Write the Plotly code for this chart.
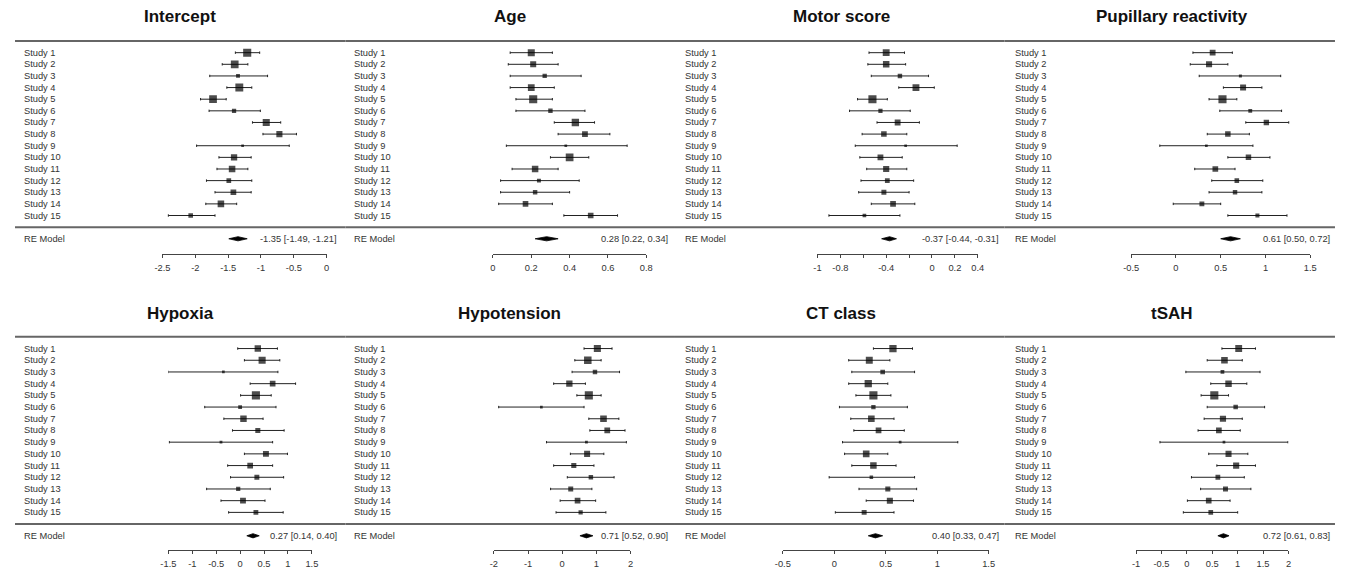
import plotly.graph_objects as go

W, H = 1347, 577          # target window
OFF = 8                   # default body margin of the html page
FW, FH = W - 2 * OFF, H - 2 * OFF   # figure size so the page fits exactly

# ---------------- data ----------------
studies = [f"Study {i}" for i in range(1, 16)]
panel_titles = ["Intercept", "Age", "Motor score", "Pupillary reactivity",
                "Hypoxia", "Hypotension", "CT class", "tSAH"]

intercept_est = [-1.21, -1.40, -1.35, -1.33, -1.73, -1.41, -0.92, -0.72, -1.28, -1.41, -1.44, -1.49, -1.42, -1.61, -2.07]
intercept_lo = [-1.39, -1.59, -1.78, -1.52, -1.92, -1.79, -1.13, -0.97, -1.98, -1.64, -1.67, -1.83, -1.70, -1.84, -2.41]
intercept_hi = [-1.02, -1.20, -0.90, -1.14, -1.53, -1.01, -0.70, -0.46, -0.57, -1.15, -1.20, -1.14, -1.15, -1.37, -1.70]

age_est = [0.20, 0.21, 0.27, 0.20, 0.21, 0.30, 0.43, 0.48, 0.38, 0.40, 0.22, 0.24, 0.22, 0.17, 0.51]
age_lo = [0.09, 0.08, 0.09, 0.09, 0.12, 0.12, 0.32, 0.34, 0.07, 0.30, 0.10, 0.04, 0.04, 0.03, 0.37]
age_hi = [0.31, 0.34, 0.46, 0.32, 0.31, 0.48, 0.53, 0.61, 0.70, 0.50, 0.34, 0.45, 0.40, 0.31, 0.65]

motor_est = [-0.40, -0.40, -0.28, -0.14, -0.52, -0.45, -0.30, -0.42, -0.23, -0.45, -0.40, -0.39, -0.42, -0.34, -0.59]
motor_lo = [-0.55, -0.56, -0.53, -0.29, -0.65, -0.72, -0.48, -0.61, -0.67, -0.63, -0.57, -0.62, -0.64, -0.53, -0.90]
motor_hi = [-0.24, -0.23, -0.03, 0.02, -0.39, -0.19, -0.11, -0.22, 0.22, -0.26, -0.22, -0.16, -0.20, -0.15, -0.28]

pupil_est = [0.41, 0.37, 0.72, 0.75, 0.52, 0.83, 1.01, 0.58, 0.34, 0.81, 0.44, 0.68, 0.66, 0.29, 0.91]
pupil_lo = [0.19, 0.16, 0.26, 0.53, 0.37, 0.49, 0.78, 0.35, -0.18, 0.58, 0.21, 0.40, 0.37, -0.03, 0.58]
pupil_hi = [0.63, 0.58, 1.17, 0.96, 0.68, 1.18, 1.26, 0.82, 0.86, 1.05, 0.66, 0.97, 0.96, 0.50, 1.24]

hypoxia_est = [0.37, 0.46, -0.35, 0.68, 0.33, 0.00, 0.07, 0.37, -0.40, 0.54, 0.21, 0.35, -0.04, 0.06, 0.33]
hypoxia_lo = [-0.05, 0.09, -1.50, 0.21, 0.01, -0.74, -0.34, -0.16, -1.48, 0.09, -0.26, -0.20, -0.70, -0.40, -0.24]
hypoxia_hi = [0.78, 0.83, 0.79, 1.16, 0.65, 0.75, 0.48, 0.92, 0.68, 0.99, 0.68, 0.91, 0.63, 0.52, 0.90]

hypot_est = [1.03, 0.75, 0.96, 0.21, 0.78, -0.61, 1.21, 1.32, 0.71, 0.73, 0.34, 0.84, 0.25, 0.45, 0.54]
hypot_lo = [0.64, 0.37, 0.29, -0.25, 0.43, -1.86, 0.78, 0.81, -0.46, 0.24, -0.25, 0.15, -0.34, -0.06, -0.18]
hypot_hi = [1.46, 1.14, 1.68, 0.68, 1.14, 0.64, 1.66, 1.84, 1.88, 1.22, 0.93, 1.52, 0.87, 0.98, 1.28]

ct_est = [0.57, 0.34, 0.47, 0.33, 0.38, 0.38, 0.36, 0.43, 0.64, 0.31, 0.38, 0.36, 0.52, 0.54, 0.29]
ct_lo = [0.38, 0.14, 0.17, 0.14, 0.21, 0.05, 0.16, 0.19, 0.08, 0.10, 0.17, -0.05, 0.24, 0.31, 0.01]
ct_hi = [0.76, 0.54, 0.78, 0.52, 0.55, 0.71, 0.58, 0.68, 1.20, 0.52, 0.60, 0.78, 0.80, 0.77, 0.58]

tsah_est = [1.02, 0.74, 0.70, 0.82, 0.54, 0.96, 0.71, 0.63, 0.73, 0.82, 0.97, 0.61, 0.76, 0.43, 0.47]
tsah_lo = [0.69, 0.40, -0.02, 0.47, 0.28, 0.40, 0.34, 0.22, -0.53, 0.43, 0.59, 0.09, 0.27, 0.01, -0.07]
tsah_hi = [1.35, 1.09, 1.44, 1.18, 0.82, 1.53, 1.09, 1.05, 1.99, 1.20, 1.35, 1.13, 1.26, 0.85, 1.00]

re_est = [-1.35, 0.28, -0.37, 0.61, 0.27, 0.71, 0.40, 0.72]
re_lo = [-1.49, 0.22, -0.44, 0.50, 0.14, 0.52, 0.33, 0.61]
re_hi = [-1.21, 0.34, -0.31, 0.72, 0.40, 0.90, 0.47, 0.83]

tick_values = [
    [-2.5, -2, -1.5, -1, -0.5, 0],
    [0, 0.2, 0.4, 0.6, 0.8],
    [-1, -0.8, -0.6, -0.4, -0.2, 0, 0.2, 0.4],
    [-0.5, 0, 0.5, 1, 1.5],
    [-1.5, -1, -0.5, 0, 0.5, 1, 1.5],
    [-2, -1, 0, 1, 2],
    [-0.5, 0, 0.5, 1, 1.5],
    [-1, -0.5, 0, 0.5, 1, 1.5, 2],
]
tick_labels = [
    ["-2.5", "-2", "-1.5", "-1", "-0.5", "0"],
    ["0", "0.2", "0.4", "0.6", "0.8"],
    ["-1", "-0.8", "", "-0.4", "", "0", "0.2", "0.4"],
    ["-0.5", "0", "0.5", "1", "1.5"],
    ["-1.5", "-1", "-0.5", "0", "0.5", "1", "1.5"],
    ["-2", "-1", "0", "1", "2"],
    ["-0.5", "0", "0.5", "1", "1.5"],
    ["-1", "-0.5", "0", "0.5", "1", "1.5", "2"],
]

panels_est = [intercept_est, age_est, motor_est, pupil_est, hypoxia_est, hypot_est, ct_est, tsah_est]
panels_lo = [intercept_lo, age_lo, motor_lo, pupil_lo, hypoxia_lo, hypot_lo, ct_lo, tsah_lo]
panels_hi = [intercept_hi, age_hi, motor_hi, pupil_hi, hypoxia_hi, hypot_hi, ct_hi, tsah_hi]

# ---------------- layout geometry (window pixels) ----------------
edge_px = [7, 341, 674, 1007, 1341]
label_x_px = [14, 348, 682, 1016]
text_right_px = [334, 669, 1003, 1338]
title_x_px = [174, 507, 842, 1176]
axis_px = [(156, 322), (490, 645), (818, 980), (1135, 1316),
           (162, 307), (491, 629), (783, 991), (1140, 1294)]
rows_geom = [  # first study row, last study row, axis line, title
    dict(first=53, last=217, axis=256, title=17),
    dict(first=351, last=516, axis=554, title=316),
]
FONT = "Liberation Sans, Arial, sans-serif"
TXT = "#333333"
SEP = "#666666"


def px_x(p):
    return (p - OFF) / FW


def px_y(p):
    return 1 - (p - OFF) / FH


fig = go.Figure()
shapes, annotations = [], []
layout_axes = {}

n = len(studies)
ys = [n - k for k in range(n)]  # Study 1 at top
Y_TOP = 16.6

for p in range(8):
    r, c = divmod(p, 4)
    g = rows_geom[r]
    unit = (g["last"] - g["first"]) / (n - 1)
    y_min = 1 - (g["axis"] - g["last"]) / unit
    top_px = g["last"] - (Y_TOP - 1) * unit
    ydom = [px_y(g["axis"]), px_y(top_px)]
    x0p, x1p = axis_px[p]
    tv = tick_values[p]
    i = p + 1
    xa = "x" if i == 1 else f"x{i}"
    ya = "y" if i == 1 else f"y{i}"

    layout_axes["xaxis" if i == 1 else f"xaxis{i}"] = dict(
        domain=[px_x(x0p), px_x(x1p)], range=[tv[0], tv[-1]], anchor=ya,
        showline=True, linecolor="#444", linewidth=1, ticks="outside",
        ticklen=3, tickwidth=1, tickcolor="#444", tickvals=tv,
        ticktext=tick_labels[p], showgrid=False, zeroline=False,
        tickfont=dict(family=FONT, size=9.3, color=TXT), ticklabelstandoff=2,
        fixedrange=True,
    )
    layout_axes["yaxis" if i == 1 else f"yaxis{i}"] = dict(
        domain=ydom, range=[y_min, Y_TOP], anchor=xa, visible=False,
        showgrid=False, zeroline=False, fixedrange=True,
    )

    est, lo, hi = panels_est[p], panels_lo[p], panels_hi[p]
    inv_w = [1 / (h - l) for l, h in zip(lo, hi)]
    mn, mx = min(inv_w), max(inv_w)
    psize = [0.5 + (w - mn) / (mx - mn) for w in inv_w]
    sizes = [5.4 * s for s in psize]

    fig.add_trace(go.Scatter(
        x=est, y=ys, xaxis=xa, yaxis=ya, mode="markers",
        marker=dict(symbol="square", size=sizes, color="black", line=dict(width=0)),
        error_x=dict(type="data", symmetric=False,
                     array=[h - e for e, h in zip(est, hi)],
                     arrayminus=[e - l for e, l in zip(est, lo)],
                     color="#222", thickness=1, width=1.2),
        showlegend=False, hoverinfo="skip",
    ))

    dh = 0.18
    fig.add_trace(go.Scatter(
        x=[re_lo[p], re_est[p], re_hi[p], re_est[p], re_lo[p]],
        y=[-1, -1 + dh, -1, -1 - dh, -1],
        xaxis=xa, yaxis=ya, mode="lines", fill="toself",
        fillcolor="black", line=dict(color="black", width=0.8),
        showlegend=False, hoverinfo="skip",
    ))

    # separator lines across the panel
    for yv in (n + 1, 0):
        shapes.append(dict(type="line", xref="paper", yref=ya,
                           x0=px_x(edge_px[c]), x1=px_x(edge_px[c + 1]), y0=yv, y1=yv,
                           line=dict(color=SEP, width=2)))

    # study labels
    for s, yv in zip(studies, ys):
        annotations.append(dict(text=s, xref="paper", yref=ya, x=px_x(label_x_px[c]), y=yv,
                                xanchor="left", yanchor="middle", showarrow=False,
                                font=dict(family=FONT, size=9.3, color=TXT)))
    annotations.append(dict(text="RE Model", xref="paper", yref=ya, x=px_x(label_x_px[c]), y=-1,
                            xanchor="left", yanchor="middle", showarrow=False,
                            font=dict(family=FONT, size=9.3, color=TXT)))
    annotations.append(dict(text=f"{re_est[p]:.2f} [{re_lo[p]:.2f}, {re_hi[p]:.2f}]",
                            xref="paper", yref=ya, x=px_x(text_right_px[c]), y=-1,
                            xanchor="right", yanchor="middle", showarrow=False,
                            font=dict(family=FONT, size=9.3, color=TXT)))
    annotations.append(dict(text=f"<b>{panel_titles[p]}</b>", xref="paper", yref="paper",
                            x=px_x(title_x_px[c]), y=px_y(g["title"]),
                            xanchor="center", yanchor="middle", showarrow=False,
                            font=dict(family=FONT, size=17, color="#111")))

fig.update_layout(
    width=FW, height=FH, margin=dict(l=0, r=0, t=0, b=0),
    paper_bgcolor="white", plot_bgcolor="white",
    shapes=shapes, annotations=annotations, showlegend=False,
    **layout_axes,
)

fig.write_html("out.html", config={"displayModeBar": False})
